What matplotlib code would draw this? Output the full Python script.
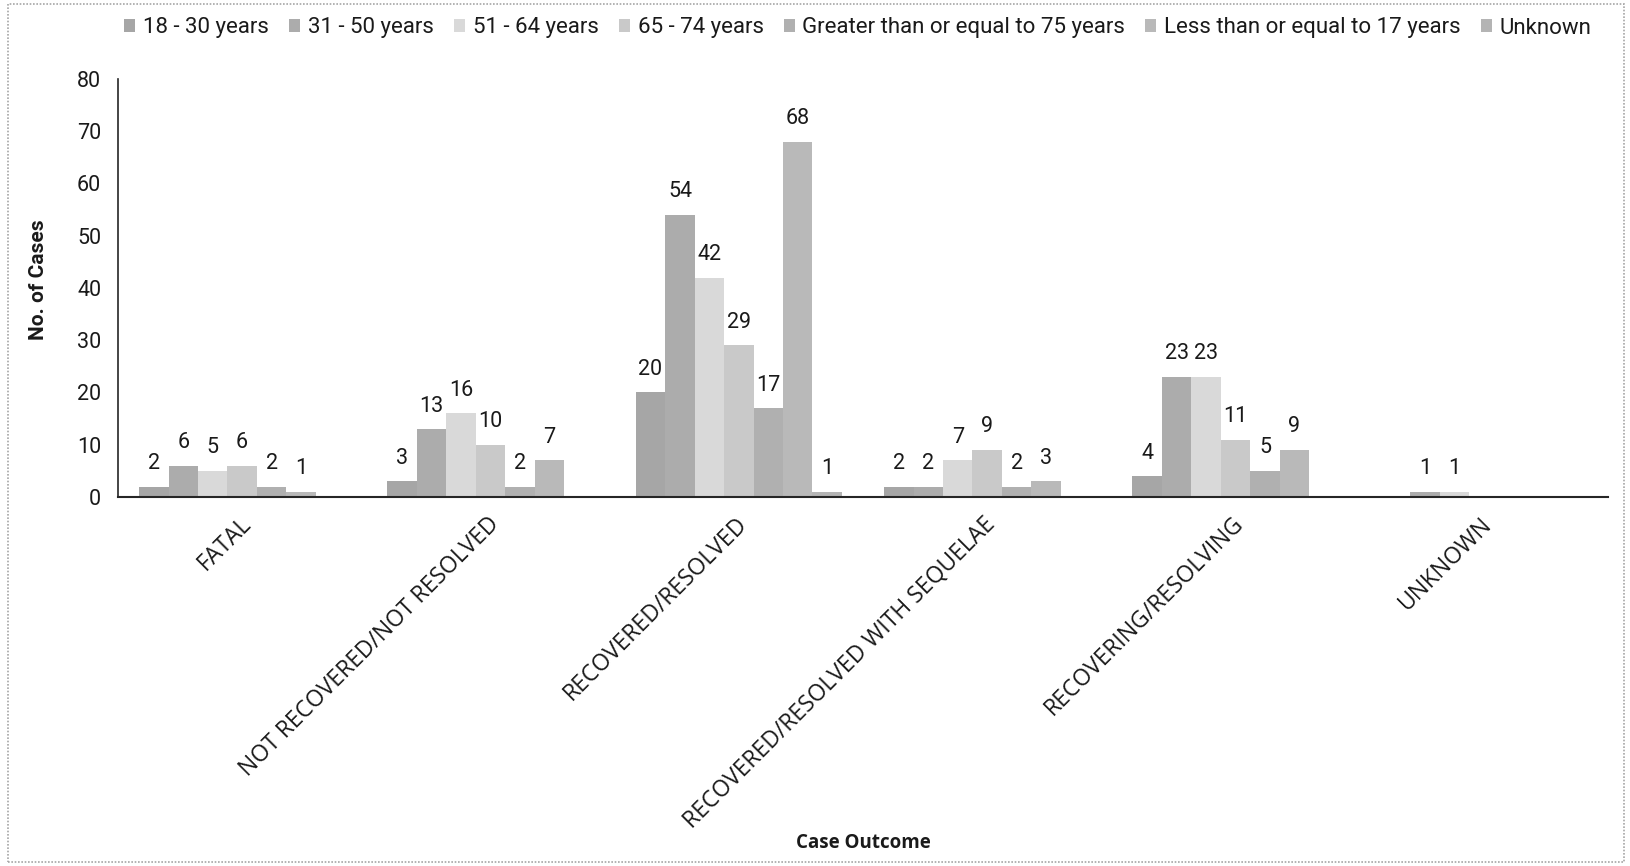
import matplotlib
matplotlib.use("Agg")
import matplotlib.pyplot as plt
import matplotlib.transforms as mtransforms
import numpy as np
from matplotlib.patches import Rectangle

categories = ["FATAL", "NOT RECOVERED/NOT RESOLVED", "RECOVERED/RESOLVED",
              "RECOVERED/RESOLVED WITH SEQUELAE", "RECOVERING/RESOLVING", "UNKNOWN"]
series_names = ["18 - 30 years", "31 - 50 years", "51 - 64 years", "65 - 74 years",
                "Greater than or equal to 75 years", "Less than or equal to 17 years", "Unknown"]
age_18_30 = [2, 3, 20, 2, 4, 0]
age_31_50 = [6, 13, 54, 2, 23, 1]
age_51_64 = [5, 16, 42, 7, 23, 1]
age_65_74 = [6, 10, 29, 9, 11, 0]
age_ge_75 = [2, 2, 17, 2, 5, 0]
age_le_17 = [1, 7, 68, 3, 9, 0]
age_unknown = [0, 0, 1, 0, 0, 0]
series_values = [age_18_30, age_31_50, age_51_64, age_65_74, age_ge_75, age_le_17, age_unknown]
yticks = [0, 10, 20, 30, 40, 50, 60, 70, 80]

colors = ["#a6a6a6", "#acacac", "#d9d9d9", "#c9c9c9", "#b0b0b0", "#b9b9b9", "#b4b4b4"]

W, H = 1631, 866
fig = plt.figure(figsize=(W / 100, H / 100), dpi=100)
ax = fig.add_axes([118 / W, 1 - 497 / H, (1608 - 118) / W, (497 - 79) / H])

num_font = ["Roboto", "DejaVu Sans"]
cat_font = ["Open Sans", "DejaVu Sans"]
n = len(series_names)
x = np.arange(len(categories))
bw = 1.0 / (n + 1.43)
for i, (name, vals) in enumerate(zip(series_names, series_values)):
    pos = x + (i - (n - 1) / 2) * bw
    ax.bar(pos, vals, width=bw, color=colors[i], label=name, linewidth=0)
    for p, v in zip(pos, vals):
        if v > 0:
            ax.annotate(str(v), (p, v), xytext=(0, 9), textcoords="offset points",
                        ha="center", va="bottom", fontsize=15.5, family=num_font,
                        color="#1a1a1a")

ax.set_xlim(-0.5, len(categories) - 0.5)
ax.set_ylim(0, 80)
ax.set_yticks(yticks)
ax.set_yticklabels([str(t) for t in yticks], family=num_font, fontsize=15.5, color="#1a1a1a")
ax.tick_params(axis="y", length=0, pad=12)
ax.set_xticks(x)
ax.set_xticklabels(categories, rotation=45, ha="right", va="center", rotation_mode="anchor",
                   family=cat_font, fontsize=16.5, color="#1a1a1a")
ax.tick_params(axis="x", length=0, pad=17)
shift = mtransforms.ScaledTranslation(5 / 100, 0, fig.dpi_scale_trans)
for lbl in ax.get_xticklabels():
    lbl.set_transform(lbl.get_transform() + shift)
for s in ["top", "right"]:
    ax.spines[s].set_visible(False)
ax.spines["left"].set_color("#262626")
ax.spines["bottom"].set_color("#262626")
ax.spines["left"].set_linewidth(1.2)
ax.spines["bottom"].set_linewidth(1.5)

ax.set_ylabel("No. of Cases", family=["Roboto", "DejaVu Sans"],
              fontweight="bold", fontsize=15, color="#1a1a1a")
ax.yaxis.set_label_coords(-0.047, 0.52)
fig.text((118 + 1608) / 2 / W, 1 - 843 / H, "Case Outcome", ha="center", va="center",
         family=cat_font, fontweight="bold", fontsize=13.5, color="#1a1a1a")

leg = fig.legend(loc="center", bbox_to_anchor=(858 / W, 1 - 28 / H), ncol=n, frameon=False,
                 prop={"family": ["Roboto", "DejaVu Sans"], "size": 16},
                 handlelength=0.5, handleheight=0.5, handletextpad=0.35, columnspacing=0.9)
for t in leg.get_texts():
    t.set_color("#1a1a1a")

fig.patches.append(Rectangle((8 / W, 4 / H), (1624 - 8) / W, (862 - 4) / H,
                             transform=fig.transFigure, fill=False, edgecolor="#a6a6a6",
                             linestyle=(0, (1, 1)), linewidth=1.2))

fig.savefig("out.png", dpi=100)
